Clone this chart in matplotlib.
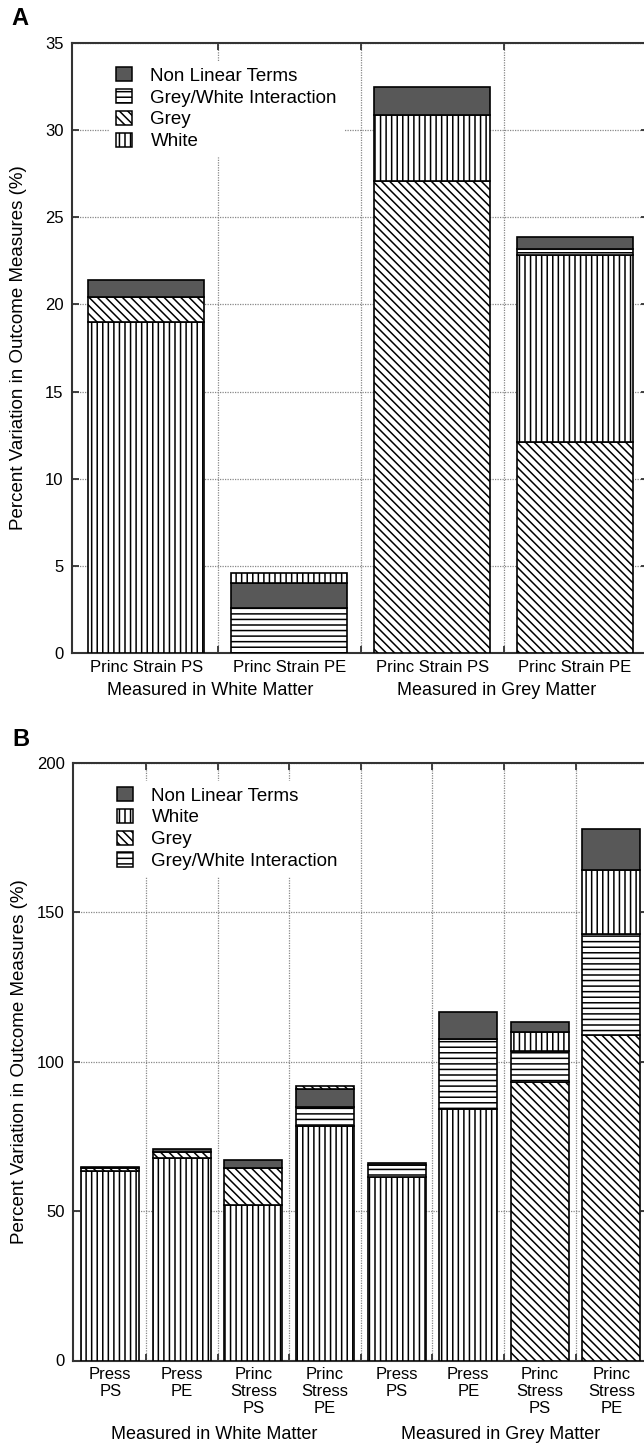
import matplotlib
matplotlib.use("Agg")
import matplotlib.pyplot as plt
from matplotlib.patches import Patch

plt.rcParams['font.family'] = ['Liberation Sans', 'DejaVu Sans']
plt.rcParams['hatch.linewidth'] = 1.1
plt.rcParams['hatch.color'] = 'black'

# ---- panel A data (percent variation) ----
a_labels = ["Princ Strain PS", "Princ Strain PE", "Princ Strain PS", "Princ Strain PE"]
a_white = [19.0, 0.6, 3.75, 10.75]
a_grey = [1.45, 0.0, 27.1, 12.1]
a_inter = [0.0, 2.6, 0.0, 0.35]
a_nonlin = [0.95, 1.4, 1.65, 0.65]
# stacking order, bottom to top
a_order = [["white", "grey", "nonlin"],
           ["inter", "nonlin", "white"],
           ["grey", "white", "nonlin"],
           ["grey", "white", "inter", "nonlin"]]

# ---- panel B data ----
b_labels = ["Press\nPS", "Press\nPE", "Princ\nStress\nPS", "Princ\nStress\nPE",
            "Press\nPS", "Press\nPE", "Princ\nStress\nPS", "Princ\nStress\nPE"]
b_white = [63.3, 67.9, 51.9, 78.5, 61.5, 84.3, 6.4, 21.5]
b_grey = [1.0, 1.8, 12.4, 1.1, 0.0, 0.0, 93.3, 108.9]
b_inter = [0.0, 0.0, 0.0, 6.2, 3.9, 23.2, 10.3, 33.8]
b_nonlin = [0.6, 1.1, 2.8, 6.1, 0.8, 9.0, 3.4, 13.7]
b_order = [["white", "grey", "nonlin"],
           ["white", "grey", "nonlin"],
           ["white", "grey", "nonlin"],
           ["white", "inter", "nonlin", "grey"],
           ["white", "inter", "nonlin"],
           ["white", "inter", "nonlin"],
           ["grey", "inter", "white", "nonlin"],
           ["grey", "inter", "white", "nonlin"]]

groups = ["Measured in White Matter", "Measured in Grey Matter"]

names = {"nonlin": "Non Linear Terms", "inter": "Grey/White Interaction",
         "grey": "Grey", "white": "White"}
styles = {"white": dict(facecolor="white", hatch="|||"),
          "grey": dict(facecolor="white", hatch="\\\\\\\\"),
          "inter": dict(facecolor="white", hatch="---"),
          "nonlin": dict(facecolor="#585858", hatch=None)}


def draw_panel(ax, labels, comps, order, ymax, ystep, legend_keys, group_x, group_y, letter):
    n = len(labels)
    for i in range(n):
        bottom = 0
        for key in order[i]:
            v = comps[key][i]
            if v <= 0:
                continue
            ax.bar(i, v, 0.81, bottom=bottom, edgecolor="black", linewidth=1.2,
                   zorder=3, **styles[key])
            bottom += v
    ax.set_xlim(-0.52, n - 0.5 + 0.01)
    ax.set_ylim(0, ymax)
    ax.set_yticks(range(0, ymax + 1, ystep))
    ax.set_xticks([k + 0.5 for k in range(n - 1)])
    ax.set_xticklabels([])
    ax.set_xticks(range(n), minor=True)
    ax.set_xticklabels(labels, minor=True, fontsize=12, linespacing=1.15)
    ax.tick_params(which="major", direction="in", length=5, width=1.3,
                   top=True, right=True, labelsize=12, pad=6, color="#333333")
    ax.tick_params(which="minor", length=0, pad=5)
    ax.grid(True, which="major", color="#888888", linestyle=(0, (1, 1)), linewidth=0.9, zorder=0)
    for s in ax.spines.values():
        s.set_linewidth(1.5)
        s.set_color("#333333")
    ax.set_ylabel("Percent Variation in Outcome Measures (%)", fontsize=13.5)
    ax.yaxis.set_label_coords(-45 / 576, 0.5)
    for gx, g in zip(group_x, groups):
        ax.text(gx, group_y, g, transform=ax.get_xaxis_transform(), ha="center",
                va="center", fontsize=13)
    handles = [Patch(edgecolor="black", linewidth=1.1, label=names[k], **styles[k])
               for k in legend_keys]
    leg = ax.legend(handles=handles, loc="upper left", bbox_to_anchor=(0.05, 0.985),
                    fontsize=13.5, frameon=True, framealpha=1, edgecolor="white",
                    fancybox=False, handlelength=0.85, handleheight=0.8,
                    handletextpad=1.0, labelspacing=0.22, borderpad=0.3)
    leg.set_zorder(5)
    ax.text(-0.105, 1.04, letter, transform=ax.transAxes, fontsize=17,
            fontweight="bold", va="center", ha="left")


fig = plt.figure(figsize=(6.44, 14.46), dpi=100)
W, H = 644.0, 1446.0
axA = fig.add_axes([72 / W, 1 - 653 / H, 576 / W, 610 / H])
axB = fig.add_axes([73 / W, 1 - 1360.5 / H, 575 / W, 597.5 / H])

draw_panel(axA, a_labels,
           {"white": a_white, "grey": a_grey, "inter": a_inter, "nonlin": a_nonlin},
           a_order, 35, 5, ["nonlin", "inter", "grey", "white"],
           [0.45, 2.45], -0.062, "A")
draw_panel(axB, b_labels,
           {"white": b_white, "grey": b_grey, "inter": b_inter, "nonlin": b_nonlin},
           b_order, 200, 50, ["nonlin", "white", "grey", "inter"],
           [1.45, 5.45], -0.124, "B")

fig.savefig("out.png", dpi=100)
